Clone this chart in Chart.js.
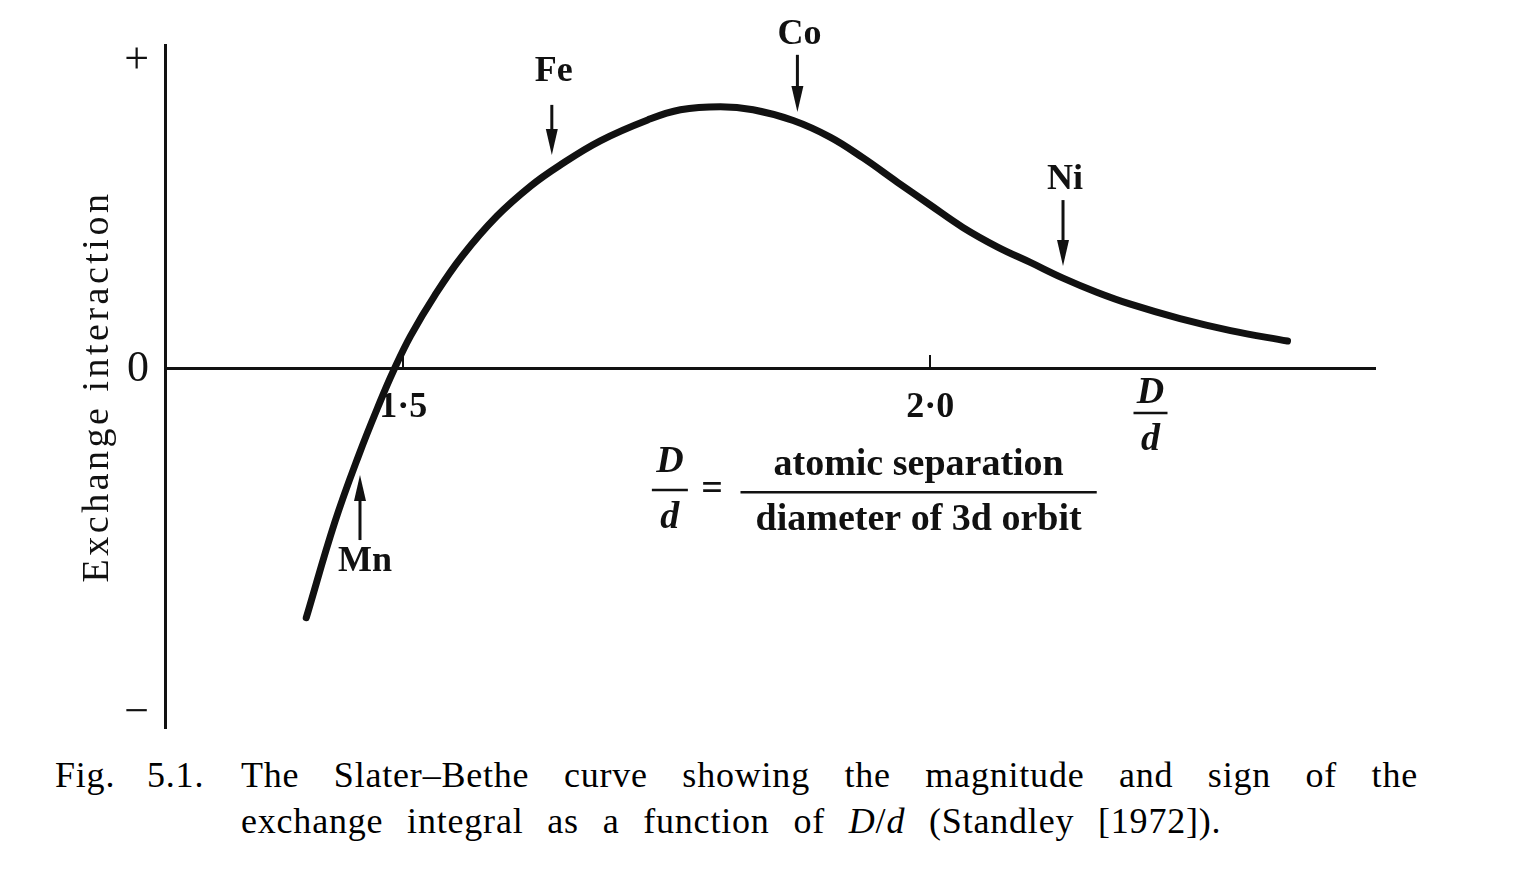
<!DOCTYPE html>
<html>
<head>
<meta charset="utf-8">
<script src="https://cdn.jsdelivr.net/npm/chart.js@4/dist/chart.umd.min.js"></script>
<style>
  body { margin: 0; background: #fff; }
  #wrap { position: relative; width: 1530px; height: 740px; }
  .cap { position: absolute; font-family: 'Liberation Serif', serif; font-size: 36px; color: #000; letter-spacing: 0.8px; word-spacing: 14px; white-space: nowrap; }
  #fig { left: 55px; top: 754px; word-spacing: 22px; }
  #cap1 { left: 241px; top: 754px; width: 1177px; text-align: justify; text-align-last: justify; white-space: normal; word-spacing: 0; }
  #cap2 { left: 241px; top: 800px; }
</style>
</head>
<body>
<div id="wrap"><canvas id="chart" width="1530" height="740"></canvas></div>
<div class="cap" id="fig">Fig. 5.1.</div>
<div class="cap" id="cap1">The Slater–Bethe curve showing the magnitude and sign of the</div>
<div class="cap" id="cap2">exchange integral as a function of <i>D</i>/<i>d</i> (Standley [1972]).</div>
<script>
// curve (D/d, exchange interaction in arbitrary units)
var curveX = [1.408, 1.435, 1.458, 1.478, 1.491, 1.507, 1.530, 1.556, 1.589, 1.621, 1.648, 1.687, 1.732, 1.763, 1.801, 1.832, 1.870, 1.905, 1.936, 1.969, 2.000, 2.031, 2.064, 2.095, 2.126, 2.158, 2.190, 2.237, 2.285, 2.339];
var curveY = [-0.810, -0.500, -0.279, -0.107, -0.004, 0.108, 0.240, 0.368, 0.498, 0.596, 0.662, 0.743, 0.811, 0.844, 0.854, 0.844, 0.809, 0.755, 0.688, 0.608, 0.534, 0.461, 0.397, 0.347, 0.296, 0.250, 0.211, 0.164, 0.125, 0.091];

var xTickValues = [1.5, 2.0];
var xTickLabels = ['1·5', '2·0'];
var yTickValues = [-1.12, 0, 1];
var yTickLabels = ['−', '0', '+'];

// element markers
var elementNames = ['Mn', 'Fe', 'Co', 'Ni'];
var elementX = [1.459, 1.641, 1.874, 2.126];
var arrowTail = [-0.557, 0.860, 1.023, 0.550];
var arrowTip = [-0.345, 0.697, 0.837, 0.335];
var labelY = [-0.629, 0.967, 1.088, 0.616];

var serif = "'Liberation Serif', 'DejaVu Serif', serif";

var points = [];
for (let i = 0; i < curveX.length; i++) {
    points.push({x: curveX[i], y: curveY[i]});
}

function drawFrac(ctx, top, bottom, cx, yTop, yBar, yBot, halfW, size) {
    ctx.font = `italic bold ${size}px ${serif}`;
    ctx.fillText(top, cx, yTop);
    ctx.fillText(bottom, cx, yBot);
    ctx.beginPath();
    ctx.moveTo(cx - halfW, yBar);
    ctx.lineTo(cx + halfW, yBar);
    ctx.stroke();
}

var notes = {
    id: 'notes',
    afterDraw(chart) {
        const ctx = chart.ctx;
        const xs = chart.scales.x, ys = chart.scales.y;
        ctx.save();
        ctx.fillStyle = '#111';
        ctx.strokeStyle = '#111';
        ctx.textAlign = 'center';
        ctx.textBaseline = 'middle';

        // arrows + element names
        for (let i = 0; i < elementNames.length; i++) {
            const px = xs.getPixelForValue(elementX[i]);
            const y1 = ys.getPixelForValue(arrowTail[i]);
            const y2 = ys.getPixelForValue(arrowTip[i]);
            const dir = y2 > y1 ? 1 : -1;
            ctx.lineWidth = 3;
            ctx.beginPath();
            ctx.moveTo(px, y1);
            ctx.lineTo(px, y2 - dir * 20);
            ctx.stroke();
            ctx.beginPath();
            ctx.moveTo(px, y2);
            ctx.lineTo(px - 6, y2 - dir * 26);
            ctx.lineTo(px + 6, y2 - dir * 26);
            ctx.closePath();
            ctx.fill();
            ctx.font = `bold 36px ${serif}`;
            ctx.fillText(elementNames[i], px + (i == 0 ? 5 : 2), ys.getPixelForValue(labelY[i]));
        }

        // y axis title, spaced out like the print
        ctx.save();
        ctx.translate(98, (chart.chartArea.top + chart.chartArea.bottom) / 2);
        ctx.rotate(-Math.PI / 2);
        ctx.font = `38px ${serif}`;
        ctx.letterSpacing = '3.5px';
        ctx.fillText('Exchange interaction', 0, 0);
        ctx.restore();

        ctx.lineWidth = 2.5;
        // D/d at end of axis
        drawFrac(ctx, 'D', 'd', xs.getPixelForValue(2.209), ys.getPixelForValue(-0.078),
            ys.getPixelForValue(-0.143), ys.getPixelForValue(-0.231), 17, 38);

        // definition of D/d
        drawFrac(ctx, 'D', 'd', xs.getPixelForValue(1.753), ys.getPixelForValue(-0.303),
            ys.getPixelForValue(-0.394), ys.getPixelForValue(-0.485), 18, 38);
        ctx.font = `bold 38px ${serif}`;
        ctx.fillText('=', xs.getPixelForValue(1.793), ys.getPixelForValue(-0.394));
        const cx = xs.getPixelForValue(1.989);
        ctx.fillText('atomic separation', cx, ys.getPixelForValue(-0.313), 323);
        ctx.fillText('diameter of 3d orbit', cx, ys.getPixelForValue(-0.492), 357);
        ctx.beginPath();
        ctx.moveTo(xs.getPixelForValue(1.820), ys.getPixelForValue(-0.401));
        ctx.lineTo(xs.getPixelForValue(2.158), ys.getPixelForValue(-0.401));
        ctx.stroke();
        ctx.restore();
    }
};

var ctx = document.getElementById('chart').getContext('2d');
var myChart = new Chart(ctx, {
    type: 'line',
    data: {
        datasets: [{
            label: 'Slater-Bethe curve',
            data: points,
            borderColor: '#111',
            borderWidth: 7,
            borderCapStyle: 'round',
            borderJoinStyle: 'round',
            pointRadius: 0,
            fill: false,
            tension: 0.4
        }]
    },
    options: {
        responsive: false,
        animation: false,
        layout: { padding: { top: 45, right: 155, bottom: 12, left: 0 } },
        plugins: { legend: { display: false }, tooltip: { enabled: false } },
        scales: {
            x: {
                type: 'linear',
                position: { y: 0 },
                min: 1.274,
                max: 2.422,
                afterFit: (s) => { s.height = 0; s.paddingLeft = 0; s.paddingRight = 0; },
                afterBuildTicks: (s) => { s.ticks = xTickValues.map(v => ({value: v})); },
                grid: { display: true, drawOnChartArea: false, drawTicks: true, tickLength: -15, color: '#111', lineWidth: 2 },
                border: { display: true, color: '#111', width: 3 },
                ticks: {
                    padding: 32,
                    color: '#111',
                    font: { family: serif, size: 36, weight: 'bold' },
                    callback: (v) => xTickLabels[xTickValues.indexOf(v)]
                }
            },
            y: {
                type: 'linear',
                min: -1.169,
                max: 1.055,
                afterFit: (s) => { s.width = 165; s.paddingTop = 0; s.paddingBottom = 0; },
                afterBuildTicks: (s) => { s.ticks = yTickValues.map(v => ({value: v})); },
                grid: { display: false },
                border: { display: true, color: '#111', width: 3 },
                ticks: {
                    padding: 8,
                    color: '#111',
                    font: { family: serif, size: 44 },
                    callback: (v) => yTickLabels[yTickValues.indexOf(v)]
                }
            }
        }
    },
    plugins: [notes]
});
</script>
</body>
</html>
